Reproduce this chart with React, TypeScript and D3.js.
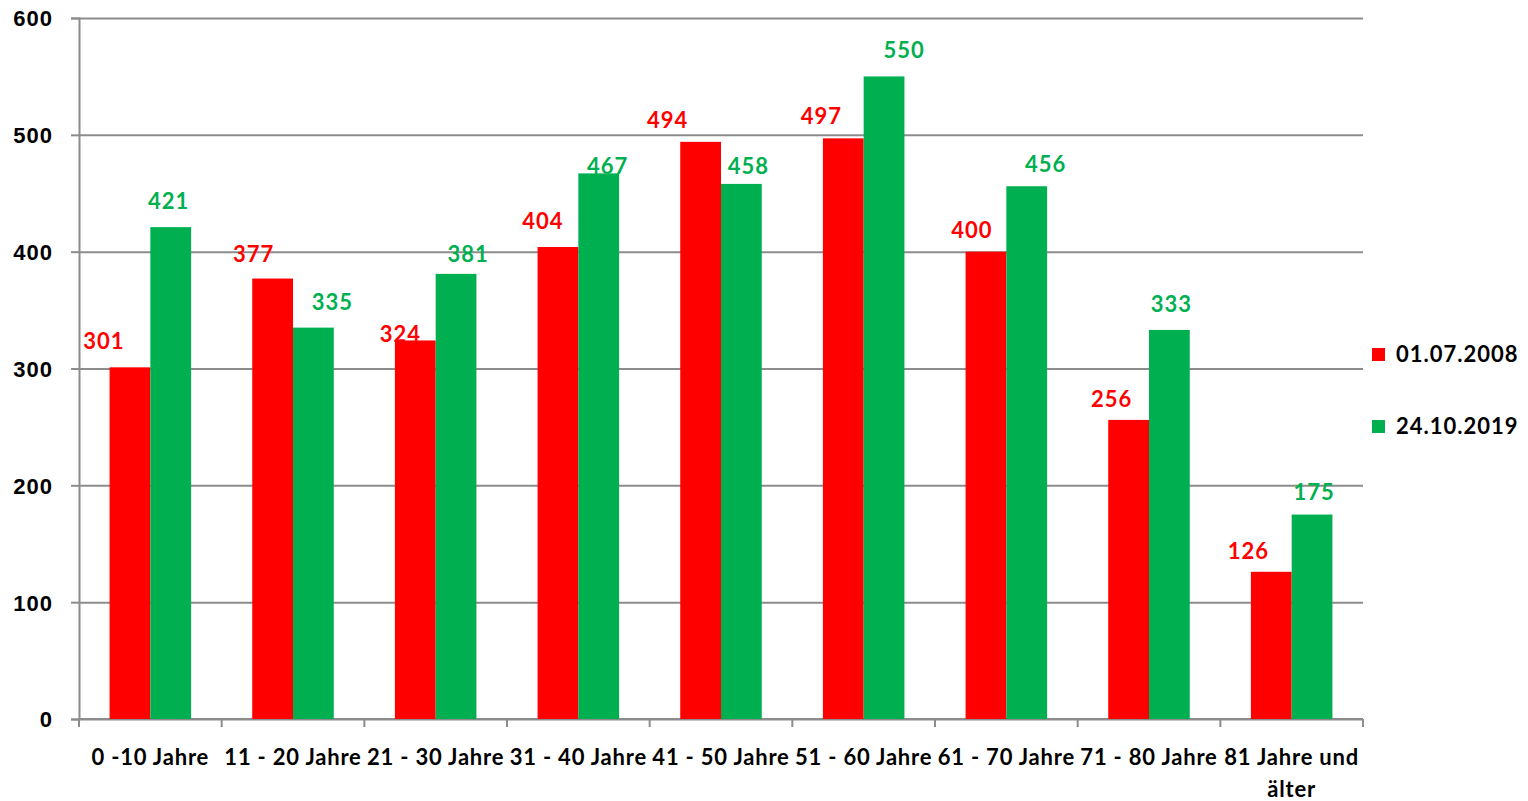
import React, { useEffect, useRef } from "react";
import * as d3 from "d3";

// age groups and residents per group
const categories = [
  "0 -10 Jahre",
  "11 - 20 Jahre",
  "21 - 30 Jahre",
  "31 - 40 Jahre",
  "41 - 50 Jahre",
  "51 - 60 Jahre",
  "61 - 70 Jahre",
  "71 - 80 Jahre",
  "81 Jahre und älter",
];
const series2008 = [301, 377, 324, 404, 494, 497, 400, 256, 126];
const series2019 = [421, 335, 381, 467, 458, 550, 456, 333, 175];
const seriesNames = ["01.07.2008", "24.10.2019"];
const yTicks = [0, 100, 200, 300, 400, 500, 600];

const colors = ["#ff0000", "#00b050"];
const font = "Lato, 'Open Sans', sans-serif";

// the data labels were dragged around by hand in the original chart,
// these are their pixel nudges from the bar centre / bar top
const labelDx = [
  [-26, -19, -15, -15, -33, -22, -14, -17, -23],
  [-2, 19, 12, 9, 7, 20, 19, 2, 2],
];
const labelDy = [
  [-18, -17, 1.5, -18, -14, -14, -14, -13, -13],
  [-18, -18, -12, 1, -10, -18, -14, -18, -15],
];

const App = () => {
  const svgRef = useRef<SVGSVGElement>(null);

  useEffect(() => {
    const width = 1528;
    const height = 801;
    const marginLeft = 79;
    const marginRight = 165;
    const marginTop = 18;
    const marginBottom = 82;

    const x = d3
      .scaleBand()
      .domain(categories)
      .range([marginLeft, width - marginRight]);
    const y = d3
      .scaleLinear()
      .domain([0, 600])
      .range([height - marginBottom, marginTop]);

    const svg = d3.select(svgRef.current);
    svg.selectAll("*").remove();
    svg
      .attr("width", width)
      .attr("height", height)
      .attr("viewBox", [0, 0, width, height])
      .style("font-family", font)
      .style("font-weight", "bold");

    const grid = "#8c8c8c";

    // y axis with gridlines
    svg
      .append("g")
      .attr("transform", `translate(${marginLeft},0)`)
      .call(d3.axisLeft(y).tickValues(yTicks).tickSize(8).tickPadding(18))
      .call((g) => g.select(".domain").attr("stroke", grid).attr("stroke-width", 2))
      .call((g) => g.selectAll(".tick line").attr("stroke", grid).attr("stroke-width", 2))
      .call((g) =>
        g
          .selectAll(".tick line")
          .clone()
          .attr("x1", 0)
          .attr("x2", width - marginLeft - marginRight),
      )
      .call((g) =>
        g
          .selectAll(".tick text")
          .attr("fill", "#000")
          .style("font-size", "22px")
          .style("letter-spacing", "1px")
          .attr("dy", "0.36em"),
      );

    // x axis: ticks between categories
    const boundaries = categories.map((c) => x(c)!).concat([x.range()[1]]);
    const xAxis = svg.append("g");
    xAxis
      .append("line")
      .attr("x1", marginLeft)
      .attr("x2", width - marginRight)
      .attr("y1", y(0))
      .attr("y2", y(0))
      .attr("stroke", grid)
      .attr("stroke-width", 2);
    xAxis
      .selectAll("line.tk")
      .data(boundaries)
      .join("line")
      .attr("class", "tk")
      .attr("x1", (d) => d)
      .attr("x2", (d) => d)
      .attr("y1", y(0))
      .attr("y2", y(0) + 8)
      .attr("stroke", grid)
      .attr("stroke-width", 2);

    const labels = xAxis
      .selectAll("text")
      .data(categories)
      .join("text")
      .attr("x", (d) => x(d)! + x.bandwidth() / 2)
      .attr("y", y(0) + 46)
      .attr("text-anchor", "middle")
      .style("font-size", "22px")
      .style("letter-spacing", "0.8px")
      .attr("fill", "#000")
      .text((d) => d);

    // wrap labels that do not fit their band
    labels.each(function (d) {
      const t = d3.select(this);
      if ((this as SVGTextElement).getComputedTextLength() <= x.bandwidth()) return;
      const words = d.split(" ");
      const cx = x(d)! + x.bandwidth() / 2;
      t.text(null);
      let line: string[] = [];
      let tspan = t.append("tspan").attr("x", cx);
      for (const w of words) {
        line.push(w);
        tspan.text(line.join(" "));
        if ((tspan.node() as SVGTSpanElement).getComputedTextLength() > x.bandwidth() && line.length > 1) {
          line.pop();
          tspan.text(line.join(" "));
          line = [w];
          tspan = t.append("tspan").attr("x", cx).attr("dy", "1.45em").text(w);
        }
      }
    });

    // bars
    const barW = x.bandwidth() / 3.5;
    const gap = barW * 0.75;
    const allSeries = [series2008, series2019];

    allSeries.forEach((values, si) => {
      const g = svg.append("g");
      g.selectAll("rect")
        .data(values)
        .join("rect")
        .attr("x", (_, i) => x(categories[i])! + gap + si * barW)
        .attr("y", (d) => y(d))
        .attr("width", barW)
        .attr("height", (d) => y(0) - y(d))
        .attr("fill", colors[si]);
      g.selectAll("text")
        .data(values)
        .join("text")
        .attr("x", (_, i) => x(categories[i])! + gap + si * barW + barW / 2 + labelDx[si][i])
        .attr("y", (d, i) => y(d) + labelDy[si][i])
        .attr("text-anchor", "middle")
        .attr("fill", colors[si])
        .style("font-size", "22px")
        .style("letter-spacing", "1px")
        .text((d) => d);
    });

    // legend
    const legend = svg
      .append("g")
      .selectAll("g")
      .data(seriesNames)
      .join("g")
      .attr("transform", (_, i) => `translate(1372,${348 + i * 72})`);
    legend
      .append("rect")
      .attr("width", 13)
      .attr("height", 13)
      .attr("fill", (_, i) => colors[i]);
    legend
      .append("text")
      .attr("x", 24)
      .attr("y", 14)
      .style("font-size", "22px")
      .style("letter-spacing", "1px")
      .attr("fill", "#000")
      .text((d) => d);
  }, []);

  return (
    <div style={{ position: "absolute", left: 0, top: 0 }}>
      <svg ref={svgRef} style={{ display: "block" }} />
    </div>
  );
};

export default App;
